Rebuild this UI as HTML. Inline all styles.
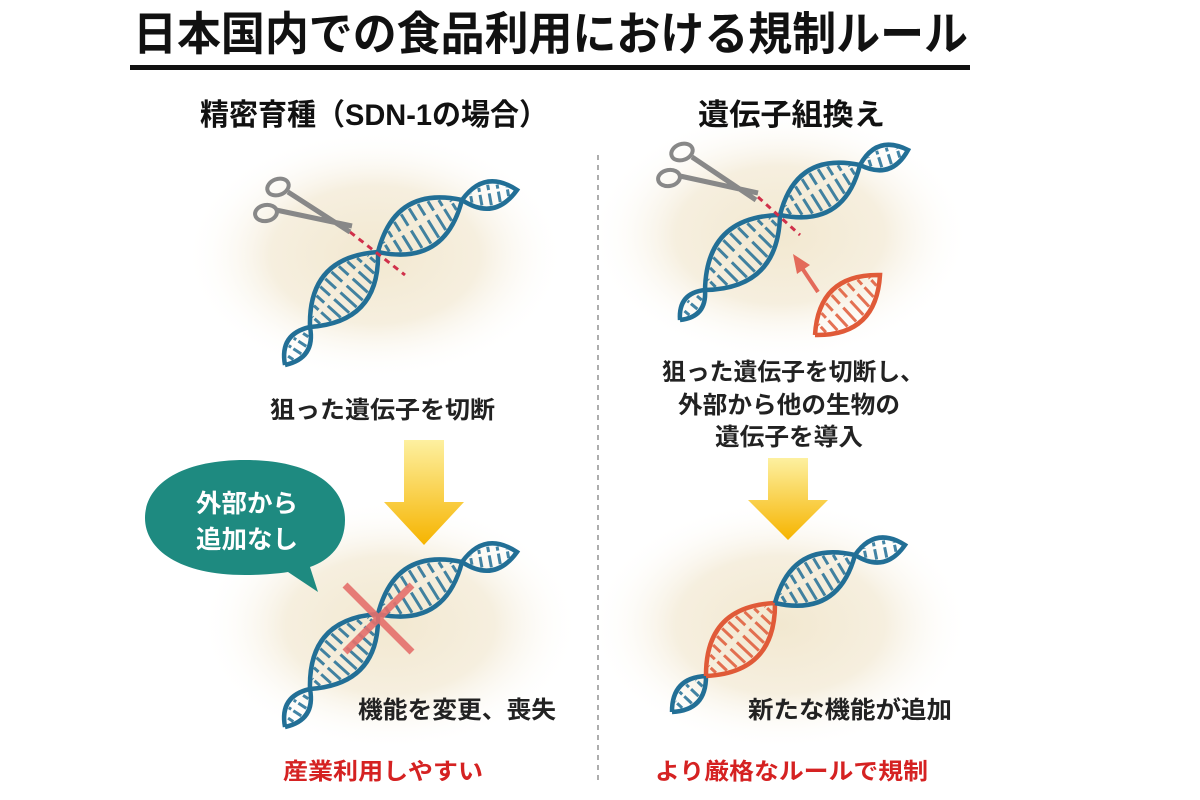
<!DOCTYPE html>
<html><head><meta charset="utf-8"><style>
html,body{margin:0;padding:0;background:#fff;width:1200px;height:800px;overflow:hidden}
svg text{font-family:"Liberation Sans","Noto Sans CJK JP",sans-serif;font-weight:bold}
</style></head><body>
<svg id="s" width="1200" height="800" viewBox="0 0 1200 800" xmlns="http://www.w3.org/2000/svg">
<defs>
<radialGradient id="glow"><stop offset="0" stop-color="#f2e8d0"/><stop offset="0.55" stop-color="#f6efdf"/><stop offset="1" stop-color="#fff" stop-opacity="0"/></radialGradient>
<linearGradient id="yel" x1="0" y1="0" x2="0" y2="1"><stop offset="0" stop-color="#fdf0a0"/><stop offset="1" stop-color="#f6b400"/></linearGradient>
</defs>
<ellipse cx="375" cy="255" rx="190" ry="125" fill="url(#glow)"/>
<ellipse cx="780" cy="235" rx="190" ry="125" fill="url(#glow)"/>
<ellipse cx="390" cy="625" rx="190" ry="125" fill="url(#glow)"/>
<ellipse cx="780" cy="625" rx="190" ry="125" fill="url(#glow)"/>
<g id="dna"></g>

<text x="133" y="50" font-size="46" textLength="835" lengthAdjust="spacingAndGlyphs" fill="#111">日本国内での食品利用における規制ルール</text>
<rect x="130" y="65" width="840" height="5" fill="#111"/>
<text x="200" y="125" font-size="30" textLength="348" lengthAdjust="spacingAndGlyphs" fill="#111">精密育種（SDN-1の場合）</text>
<text x="698" y="125" font-size="30" textLength="187" lengthAdjust="spacingAndGlyphs" fill="#111">遺伝子組換え</text>
<line x1="598" y1="155" x2="598" y2="785" stroke="#777" stroke-width="1.2" stroke-dasharray="5,5"/>

<text x="270" y="418" font-size="24" textLength="225" lengthAdjust="spacingAndGlyphs" fill="#222">狙った遺伝子を切断</text>
<text x="662" y="380" font-size="24" textLength="262" lengthAdjust="spacingAndGlyphs" fill="#222">狙った遺伝子を切断し、</text>
<text x="678" y="413" font-size="24" textLength="222" lengthAdjust="spacingAndGlyphs" fill="#222">外部から他の生物の</text>
<text x="715" y="445" font-size="24" textLength="148" lengthAdjust="spacingAndGlyphs" fill="#222">遺伝子を導入</text>
<text x="358" y="718" font-size="24" textLength="198" lengthAdjust="spacingAndGlyphs" fill="#222">機能を変更、喪失</text>
<text x="748" y="718" font-size="24" textLength="204" lengthAdjust="spacingAndGlyphs" fill="#222">新たな機能が追加</text>
<text x="283" y="779" font-size="23" textLength="200" lengthAdjust="spacingAndGlyphs" fill="#d52222">産業利用しやすい</text>
<text x="655" y="779" font-size="23" textLength="273" lengthAdjust="spacingAndGlyphs" fill="#d52222">より厳格なルールで規制</text>

<path d="M404 440 H444 V502 H464 L424 545 L384 502 H404 Z" fill="url(#yel)"/>
<path d="M768 458 H808 V500 H828 L788 540 L748 500 H768 Z" fill="url(#yel)"/>

<path d="M245 460 C310 460 345 485 345 520 C345 545 330 560 310 567 L318 592 L288 572 C275 574 260 575 245 575 C180 575 145 550 145 518 C145 485 180 460 245 460 Z" fill="#1e8a80"/>
<text x="196" y="512" font-size="25" textLength="102" lengthAdjust="spacingAndGlyphs" fill="#fff">外部から</text>
<text x="196" y="548" font-size="25" textLength="102" lengthAdjust="spacingAndGlyphs" fill="#fff">追加なし</text>

<line x1="350" y1="232" x2="405" y2="275" stroke="#d0304a" stroke-width="3" stroke-dasharray="6,5"/>
<line x1="758" y1="197" x2="800" y2="235" stroke="#d0304a" stroke-width="3" stroke-dasharray="6,5"/>

<g fill="none" stroke="#888" stroke-width="4">
<ellipse cx="278" cy="187" rx="11" ry="8" transform="rotate(-20 278 187)"/>
<ellipse cx="266" cy="213" rx="11" ry="8" transform="rotate(-10 266 213)"/>
<path d="M288 192 L350 232 M276 210 L352 226" stroke-width="5"/>
</g>
<g fill="none" stroke="#888" stroke-width="4">
<ellipse cx="682" cy="152" rx="11" ry="8" transform="rotate(-20 682 152)"/>
<ellipse cx="669" cy="178" rx="11" ry="8" transform="rotate(-10 669 178)"/>
<path d="M692 157 L756 200 M680 176 L758 193" stroke-width="5"/>
</g>

<line x1="818" y1="292" x2="802" y2="268" stroke="#e36a5a" stroke-width="4"/>
<path d="M793 254 L810 265 L797 274 Z" fill="#e36a5a"/>

<path d="M345 585 L412 652 M412 585 L345 652" stroke="#e5706c" stroke-width="7" opacity="0.9"/>
</svg>
<script>
var g=document.getElementById('dna');var NS='http://www.w3.org/2000/svg';
function lens(a,b,col,w){
 var dx=b[0]-a[0],dy=b[1]-a[1],L=Math.hypot(dx,dy),nx=-dy/L,ny=dx/L,h=L*w;
 var c1=[(a[0]+b[0])/2+nx*h,(a[1]+b[1])/2+ny*h],c2=[(a[0]+b[0])/2-nx*h,(a[1]+b[1])/2-ny*h];
 var p=document.createElementNS(NS,'path');
 p.setAttribute('d','M'+a+' Q'+c1+' '+b+' Q'+c2+' '+a);
 p.setAttribute('fill','none');p.setAttribute('stroke',col);p.setAttribute('stroke-width','4.5');g.appendChild(p);
 var n=Math.floor(L/9);
 for(var i=1;i<n;i++){var t=i/n;var s=4*t*(1-t)*h*0.5;
  if(s<6)continue;
  var mx=a[0]+dx*t,my=a[1]+dy*t;
  var l=document.createElementNS(NS,'line');
  l.setAttribute('x1',mx+nx*(s-3));l.setAttribute('y1',my+ny*(s-3));
  l.setAttribute('x2',mx-nx*(s-3));l.setAttribute('y2',my-ny*(s-3));
  l.setAttribute('stroke',col);l.setAttribute('stroke-width','3');l.setAttribute('stroke-dasharray',(s*0.9)+','+(s*0.25));l.setAttribute('opacity','0.85');g.appendChild(l);}
}
function dna(pts,cols){for(var i=0;i<pts.length-1;i++)lens(pts[i],pts[i+1],(cols&&cols[i])||'#226f96',0.48);}
dna([[285,365],[310,327],[378,252],[462,200],[517,190]]);
dna([[285,727],[310,689],[378,614],[462,562],[517,552]]);
dna([[680,320],[705,290],[780,215],[860,165],[908,150]]);
dna([[672,712],[706,676],[775,603],[855,555],[905,545]],{1:'#e05a38'});
lens([815,335],[880,275],'#e05a38',0.48);
</script>
</body></html>
